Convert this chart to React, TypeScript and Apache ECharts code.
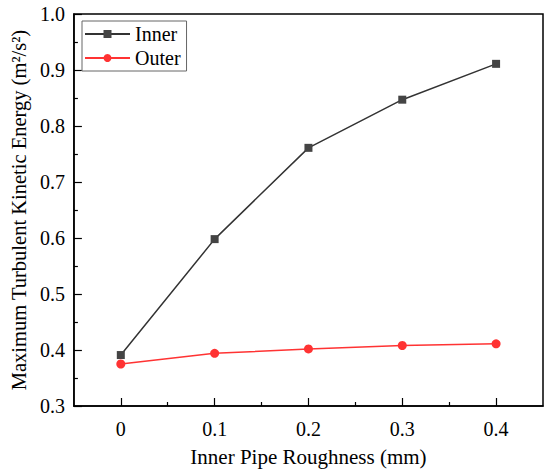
import React, { useEffect, useRef } from "react";
import * as echarts from "echarts";

const roughness = [0, 0.1, 0.2, 0.3, 0.4];
const innerTKE = [0.391, 0.598, 0.761, 0.847, 0.911];
const outerTKE = [0.375, 0.394, 0.402, 0.408, 0.411];
const xMajorTicks = [0, 0.1, 0.2, 0.3, 0.4];
const xMinorTicks = [0.05, 0.15, 0.25, 0.35];

const FONT = "Liberation Serif";

export default function App() {
  const ref = useRef<HTMLDivElement>(null);
  useEffect(() => {
    document.body.style.margin = "0";
    const chart = echarts.init(ref.current!, null, { renderer: "svg" });
    const axisLine = { show: true, onZero: false, lineStyle: { color: "#000", width: 1.5 } };
    chart.setOption({
      animation: false,
      backgroundColor: "#fff",
      textStyle: { fontFamily: FONT },
      grid: {
        left: 63,
        right: 7,
        top: 14,
        bottom: 64,
        show: true,
        borderColor: "#000",
        borderWidth: 1.5,
        backgroundColor: "transparent",
      },
      legend: {
        left: 82,
        top: 21,
        orient: "vertical",
        itemWidth: 45,
        itemHeight: 10,
        itemGap: 4,
        padding: [3, 6, 3, 2],
        borderColor: "#666",
        borderWidth: 1,
        textStyle: { fontFamily: FONT, fontSize: 20, color: "#000" },
        data: ["Inner", "Outer"],
      },
      xAxis: [
        {
          type: "value",
          min: -0.05,
          max: 0.45,
          name: "Inner Pipe Roughness (mm)",
          nameLocation: "middle",
          nameGap: 40,
          nameTextStyle: { fontFamily: FONT, fontSize: 21, color: "#000" },
          axisLine,
          axisTick: {
            show: true,
            inside: true,
            length: 8,
            customValues: xMajorTicks,
            lineStyle: { color: "#000", width: 1.2 },
          },
          axisLabel: {
            customValues: xMajorTicks,
            fontFamily: FONT,
            fontSize: 20,
            color: "#000",
            margin: 13,
            formatter: (v: number) => (Math.abs(v) < 1e-9 ? "0" : String(Math.round(v * 10) / 10)),
          },
          splitLine: { show: false },
        },
        {
          type: "value",
          min: -0.05,
          max: 0.45,
          position: "bottom",
          axisLine: { show: false, onZero: false },
          axisTick: {
            show: true,
            inside: true,
            length: 4,
            customValues: xMinorTicks,
            lineStyle: { color: "#000", width: 1.2 },
          },
          axisLabel: { show: false },
          splitLine: { show: false },
        },
      ],
      yAxis: {
        type: "value",
        min: 0.3,
        max: 1.0,
        interval: 0.1,
        name: "Maximum Turbulent Kinetic Energy (m²/s²)",
        nameLocation: "middle",
        nameGap: 39,
        nameTextStyle: { fontFamily: FONT, fontSize: 20.5, color: "#000" },
        axisLine,
        axisTick: { show: true, inside: true, length: 8, lineStyle: { color: "#000", width: 1.2 } },
        minorTick: { show: true, splitNumber: 2, length: 4, lineStyle: { color: "#000", width: 1.2 } },
        axisLabel: {
          fontFamily: FONT,
          fontSize: 20,
          color: "#000",
          margin: 9,
          formatter: (v: number) => v.toFixed(1),
        },
        splitLine: { show: false },
      },
      series: [
        {
          name: "Inner",
          type: "line",
          xAxisIndex: 0,
          data: roughness.map((x, i) => [x, innerTKE[i]]),
          symbol: "rect",
          symbolSize: 8,
          lineStyle: { color: "#333", width: 1.5 },
          itemStyle: { color: "#444" },
        },
        {
          name: "Outer",
          type: "line",
          xAxisIndex: 0,
          data: roughness.map((x, i) => [x, outerTKE[i]]),
          symbol: "circle",
          symbolSize: 9,
          lineStyle: { color: "#f33", width: 1.5 },
          itemStyle: { color: "#f33" },
        },
      ],
    });
    return () => chart.dispose();
  }, []);
  return <div ref={ref} style={{ width: 550, height: 472 }} />;
}
